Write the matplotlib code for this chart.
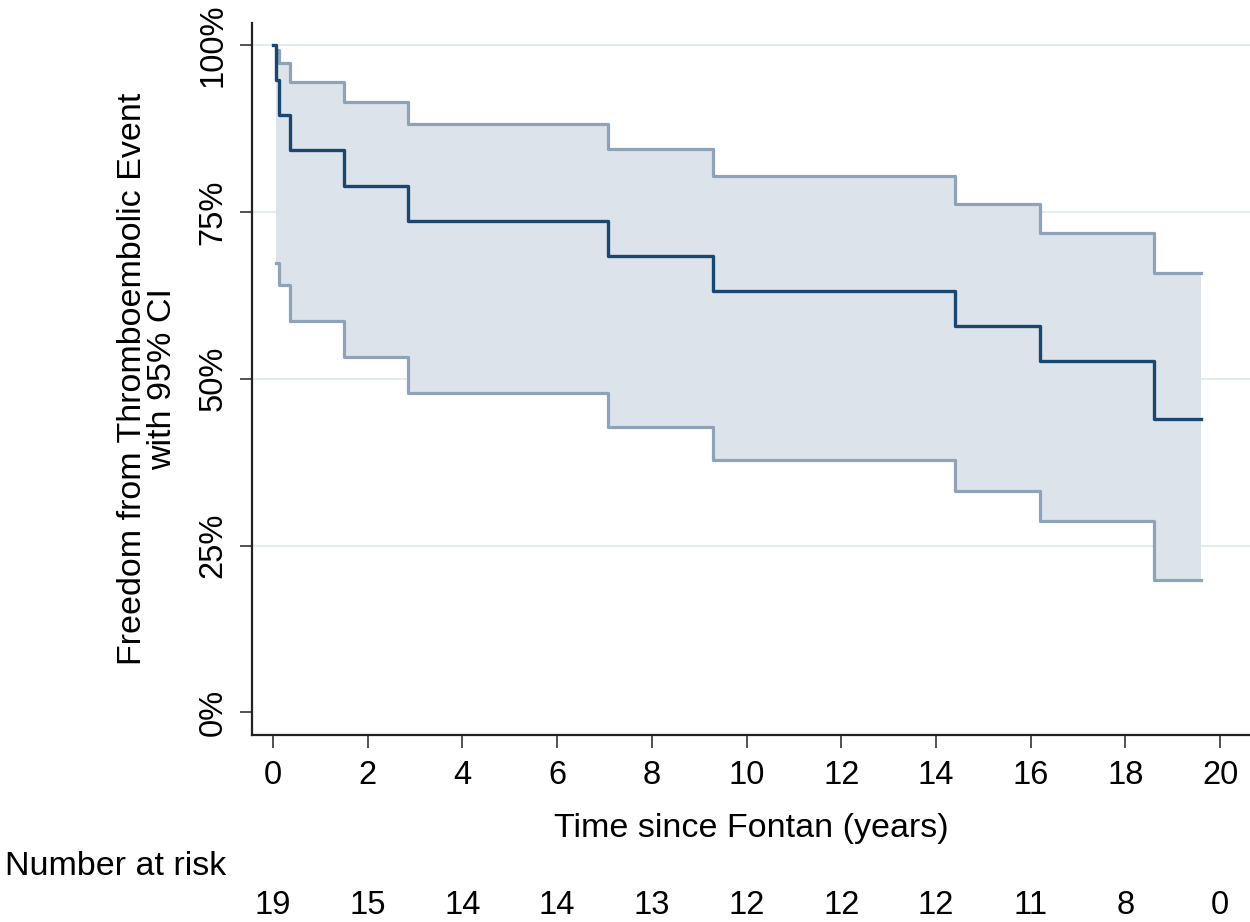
import matplotlib.pyplot as plt
from matplotlib.transforms import blended_transform_factory

plt.rcParams['font.family'] = ['Liberation Sans', 'DejaVu Sans']

# Kaplan-Meier estimate (percent) and 95% CI
times = [0, 0.06, 0.13, 0.36, 1.5, 2.85, 7.07, 9.3, 14.4, 16.2, 18.6, 19.6]
surv = [100, 94.7, 89.5, 84.2, 78.9, 73.7, 68.4, 63.2, 57.9, 52.6, 43.9, 43.9]

ci_times = [0.06, 0.13, 0.36, 1.5, 2.85, 7.07, 9.3, 14.4, 16.2, 18.6, 19.6]
ci_lower = [67.3, 64.1, 58.7, 53.2, 47.8, 42.7, 37.8, 33.1, 28.6, 19.8, 19.8]
ci_upper = [99.2, 97.3, 94.5, 91.4, 88.1, 84.4, 80.4, 76.2, 71.8, 65.8, 65.8]

risk_times = [0, 2, 4, 6, 8, 10, 12, 14, 16, 18, 20]
at_risk = [19, 15, 14, 14, 13, 12, 12, 12, 11, 8, 0]

yticks = [0, 25, 50, 75, 100]

navy = '#1a476f'
ci_line = '#8ea3b7'
ci_fill = '#dde3ea'
grid_col = '#e3ecee'

fig = plt.figure(figsize=(12.5, 9.22), dpi=100)
ax = fig.add_axes([0.2016, 0.2028, 0.7984, 0.7722])

for y in yticks[1:]:
    ax.axhline(y, color=grid_col, lw=1.5, zorder=0)

ax.fill_between(ci_times, ci_lower, ci_upper, step='post', color=ci_fill, lw=0, zorder=1)
ax.step(ci_times, ci_lower, where='post', color=ci_line, lw=2.3, zorder=2)
ax.step(ci_times, ci_upper, where='post', color=ci_line, lw=2.3, zorder=2)
ax.step(times, surv, where='post', color=navy, lw=2.4, zorder=3)

ax.set_xlim(-0.44, 20.63)
ax.set_ylim(-3.4, 103.3)
ax.set_xticks(risk_times)
ax.set_yticks(yticks)
ax.set_yticklabels([f'{v}%' for v in yticks], rotation=90, va='center')
ax.tick_params(axis='both', labelsize=23.5, length=9, width=1.3, color='#444444')
ax.tick_params(axis='y', pad=8)
ax.tick_params(axis='x', pad=9)

for s in ['top', 'right']:
    ax.spines[s].set_visible(False)
for s in ['left', 'bottom']:
    ax.spines[s].set_linewidth(1.6)
    ax.spines[s].set_color('#222222')

ax.set_xlabel('Time since Fontan (years)', fontsize=24.5, labelpad=16)
ax.set_ylabel('Freedom from Thromboembolic Event\nwith 95% CI', fontsize=24.5,
              labelpad=14, linespacing=0.95)

# number at risk table
fig.text(5 / 1250, 1 - 866 / 922, 'Number at risk', fontsize=24.5, ha='left', va='center')
trans = blended_transform_factory(ax.transData, fig.transFigure)
for t, n in zip(risk_times, at_risk):
    ax.text(t, 1 - 905 / 922, str(n), transform=trans, fontsize=23.5,
            ha='center', va='center', clip_on=False)

fig.savefig('out.png', dpi=100)
